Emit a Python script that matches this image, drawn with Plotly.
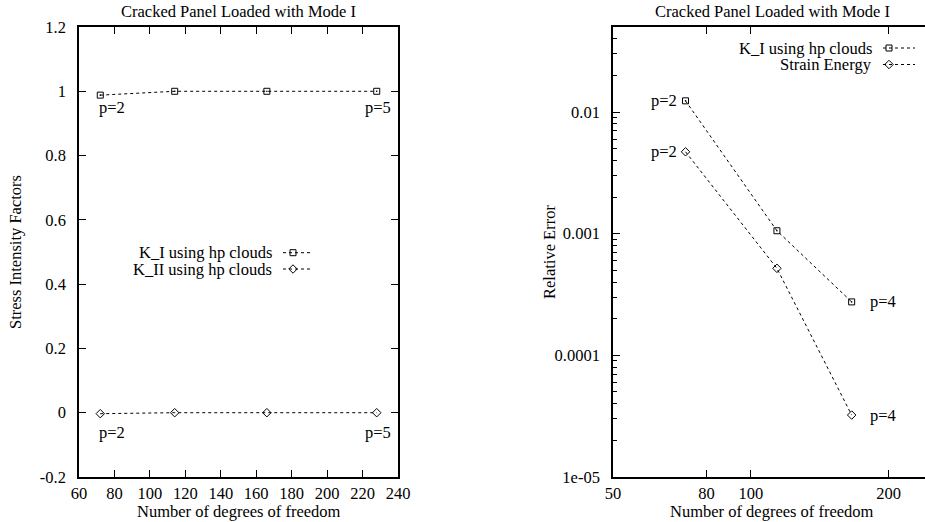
import numpy as np
import plotly.graph_objects as go

# ---- data -------------------------------------------------------------
dof_sif = [72, 114, 166, 228]
k1_sif = [0.988, 1.0, 1.0, 1.0]
k2_sif = [-0.003, 0.0, 0.0, 0.0]

dof_err = [72, 114, 166]
k1_err = [0.01236, 0.001057, 0.000275]
energy_err = [0.00471, 0.000519, 0.0000323]

left_xticks = [60, 80, 100, 120, 140, 160, 180, 200, 220, 240]
left_yticks = [-0.2, 0, 0.2, 0.4, 0.6, 0.8, 1.0, 1.2]
left_ytext = ["-0.2", "0", "0.2", "0.4", "0.6", "0.8", "1", "1.2"]
right_xticks = [50, 80, 100, 200]
right_yticks = [1e-5, 1e-4, 1e-3, 1e-2]
right_ytext = ["1e-05", "0.0001", "0.001", "0.01"]

TITLE = "Cracked Panel Loaded with Mode I"
XLABEL = "Number of degrees of freedom"

# ---- page geometry (pixels) -------------------------------------------
W, H = 925, 522
FONT = "Liberation Serif"
FS = 16.5
BLACK = "black"

def px(x):
    return x / W

def py(y):
    return 1 - y / H

fig = go.Figure()

line_style = dict(color=BLACK, width=1, dash="dot")
sq = dict(symbol="square-open", size=6, color=BLACK, line=dict(width=1, color=BLACK))
dm = dict(symbol="diamond-open", size=6.5, color=BLACK, line=dict(width=1, color=BLACK))
dot = dict(symbol="circle", size=1.6, color=BLACK)

# left panel: stress intensity factors
fig.add_trace(go.Scatter(x=dof_sif, y=k1_sif, mode="lines+markers", line=line_style,
                         marker=sq, xaxis="x", yaxis="y", showlegend=False))
fig.add_trace(go.Scatter(x=dof_sif, y=k2_sif, mode="lines+markers", line=line_style,
                         marker=dm, xaxis="x", yaxis="y", showlegend=False))
fig.add_trace(go.Scatter(x=dof_sif, y=k1_sif, mode="markers", marker=dot,
                         xaxis="x", yaxis="y", showlegend=False))

# right panel: relative error
fig.add_trace(go.Scatter(x=dof_err, y=k1_err, mode="lines+markers", line=line_style,
                         marker=sq, xaxis="x2", yaxis="y2", showlegend=False))
fig.add_trace(go.Scatter(x=dof_err, y=energy_err, mode="lines+markers", line=line_style,
                         marker=dm, xaxis="x2", yaxis="y2", showlegend=False))
fig.add_trace(go.Scatter(x=dof_err, y=k1_err, mode="markers", marker=dot,
                         xaxis="x2", yaxis="y2", showlegend=False))

# key samples, drawn in a page-pixel overlay
def key_sample(x0, x1, xm, y, marker):
    fig.add_trace(go.Scatter(x=[x0, x1], y=[y, y], mode="lines", line=line_style,
                             xaxis="x3", yaxis="y3", showlegend=False, hoverinfo="skip"))
    fig.add_trace(go.Scatter(x=[xm], y=[y], mode="markers", marker=marker,
                             xaxis="x3", yaxis="y3", showlegend=False, hoverinfo="skip"))

key_sample(283, 313, 293, 252.7, sq)
key_sample(283, 313, 293, 269.0, dm)
key_sample(883, 915, 889, 48.0, sq)
key_sample(883, 915, 889, 64.5, dm)

axis_common = dict(
    showline=True, linecolor=BLACK, linewidth=1.5,
    ticks="inside", ticklen=7, tickwidth=1, tickcolor=BLACK,
    showgrid=False, zeroline=False,
    tickfont=dict(family=FONT, size=FS, color=BLACK),
    automargin=False,
)

minor_logs = [k * 10.0 ** e for e in range(-5, -1) for k in range(2, 10) if k * 10.0 ** e <= 0.05]

fig.update_layout(
    width=W, height=H,
    margin=dict(l=0, r=0, t=0, b=0, pad=0),
    paper_bgcolor="white", plot_bgcolor="rgba(0,0,0,0)",
    font=dict(family=FONT, size=FS, color=BLACK),
    xaxis=dict(axis_common, domain=[px(79), px(398)], range=[60, 240],
               tickvals=left_xticks, mirror="ticks", anchor="y", ticklabelstandoff=0),
    yaxis=dict(axis_common, domain=[py(477), py(27)], range=[-0.2, 1.2],
               tickvals=left_yticks, ticktext=left_ytext, mirror="ticks", anchor="x",
               ticklabelstandoff=8),
    xaxis2=dict(axis_common, type="log", domain=[px(613), 1.0],
                range=[np.log10(50), np.log10(240)], tickvals=right_xticks,
                ticktext=[str(v) for v in right_xticks],
                mirror="ticks", anchor="y2", ticklabelstandoff=0),
    yaxis2=dict(axis_common, type="log", domain=[py(477), py(27)],
                range=[-5, np.log10(0.05)], tickvals=right_yticks, ticktext=right_ytext,
                mirror=False, anchor="x2", ticklabelstandoff=8,
                minor=dict(ticks="inside", ticklen=4, tickwidth=1, tickcolor=BLACK,
                           tickvals=minor_logs, showgrid=False)),
    xaxis3=dict(domain=[0, 1], range=[0, W], visible=False, fixedrange=True, anchor="y3"),
    yaxis3=dict(domain=[0, 1], range=[H, 0], visible=False, fixedrange=True, anchor="x3"),
)

def text(x, y, s, xanchor="center", **kw):
    return dict(x=x, y=y, text=s, showarrow=False, xanchor=xanchor, yanchor="middle",
                font=dict(family=FONT, size=FS, color=BLACK), **kw)

ann = []
# titles and axis labels (page pixels)
ann.append(text(238.5, 11, TITLE, xref="x3", yref="y3"))
ann.append(text(772, 11, TITLE, xref="x3", yref="y3"))
ann.append(text(238.5, 511.5, XLABEL, xref="x3", yref="y3"))
ann.append(text(772, 511.5, XLABEL, xref="x3", yref="y3"))
ann.append(text(15, 252, "Stress Intensity Factors", xref="x3", yref="y3", textangle=-90))
ann.append(text(549, 252, "Relative Error", xref="x3", yref="y3", textangle=-90))
# key texts
ann.append(text(274, 252.7, "K_I using hp clouds", xanchor="right", xref="x3", yref="y3"))
ann.append(text(274, 269.0, "K_II using hp clouds", xanchor="right", xref="x3", yref="y3"))
ann.append(text(874, 48.0, "K_I using hp clouds", xanchor="right", xref="x3", yref="y3"))
ann.append(text(874, 64.5, "Strain Energy", xanchor="right", xref="x3", yref="y3"))
# polynomial-order labels, left panel
ann.append(text(70, 0.95, "p=2", xanchor="left", xref="x", yref="y"))
ann.append(text(220, 0.95, "p=5", xanchor="left", xref="x", yref="y"))
ann.append(text(70, -0.06, "p=2", xanchor="left", xref="x", yref="y"))
ann.append(text(220, -0.06, "p=5", xanchor="left", xref="x", yref="y"))
# polynomial-order labels, right panel (log axes take log10 positions)
ann.append(text(np.log10(60), np.log10(k1_err[0]), "p=2", xanchor="left", xref="x2", yref="y2"))
ann.append(text(np.log10(60), np.log10(energy_err[0]), "p=2", xanchor="left", xref="x2", yref="y2"))
ann.append(text(np.log10(180), np.log10(k1_err[-1]), "p=4", xanchor="left", xref="x2", yref="y2"))
ann.append(text(np.log10(180), np.log10(energy_err[-1]), "p=4", xanchor="left", xref="x2", yref="y2"))

fig.update_layout(annotations=ann)
fig.write_html("out.html")
